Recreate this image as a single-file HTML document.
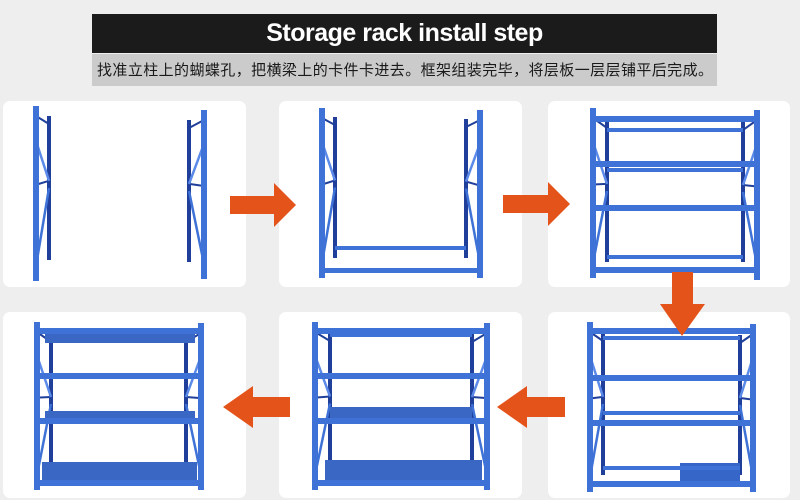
<!DOCTYPE html>
<html><head><meta charset="utf-8"><style>
html,body{margin:0;padding:0}
body{width:800px;height:500px;background:#eeeeee;position:relative;overflow:hidden;font-family:"Liberation Sans","Noto Sans CJK SC",sans-serif}
.title{position:absolute;left:92px;top:14px;width:625px;height:39px;background:#1c1b1b;color:#fff;font-weight:bold;font-size:25px;line-height:39px;text-align:center;letter-spacing:-0.5px}
.subbg{position:absolute;left:92px;top:54px;width:625px;height:32px;background:#cbcbcb}
.sub{position:absolute;left:97px;top:54px;width:616px;height:32px;color:#1a1a1a;font-size:15px;line-height:32px;letter-spacing:0;white-space:nowrap;text-align:justify;text-align-last:justify;text-justify:inter-character;font-family:"Noto Sans CJK SC",sans-serif;overflow:hidden}
.p{position:absolute;background:#fff;border-radius:7px}
svg{position:absolute;left:0;top:0}
</style></head><body>
<div class="title">Storage rack install step</div>
<div class="subbg"></div>
<div class="sub">找准立柱上的蝴蝶孔，把横梁上的卡件卡进去。框架组装完毕，将层板一层层铺平后完成。</div>
<div class="p" style="left:3px;top:101px;width:243px;height:186px"></div>
<div class="p" style="left:279px;top:101px;width:243px;height:186px"></div>
<div class="p" style="left:548px;top:101px;width:242px;height:186px"></div>
<div class="p" style="left:3px;top:312px;width:243px;height:186px"></div>
<div class="p" style="left:279px;top:312px;width:243px;height:186px"></div>
<div class="p" style="left:548px;top:312px;width:242px;height:186px"></div>
<svg id="s" width="800" height="500" viewBox="0 0 800 500"></svg>
<script>
var s='',F='#3f72d6',D='#1f3f9a',L='#5b8ae8';
function r(x,y,w,h,c){s+='<rect x="'+x+'" y="'+y+'" width="'+w+'" height="'+h+'" fill="'+c+'"/>';}
function l(x1,y1,x2,y2,c,w){s+='<line x1="'+x1+'" y1="'+y1+'" x2="'+x2+'" y2="'+y2+'" stroke="'+c+'" stroke-width="'+w+'"/>';}
function frame(fx,bx,top,bot,btop,bbot){
 r(bx-2,btop,4,bbot-btop,D);
 l(fx,top+10,bx,btop+8,D,2);l(fx,top+(bot-top)*0.45,bx,btop+(bbot-btop)*0.45,D,2);
 l(fx,top+(bot-top)*0.2,bx,btop+(bbot-btop)*0.45,L,2.5);l(fx,bot-15,bx,btop+(bbot-btop)*0.5,F,2.5);
 r(fx-3,top,6,bot-top,F);
}
function arrowR(x1,x2,cy){s+='<polygon fill="#e4531a" points="'+x1+','+(cy-9)+' '+(x2-22)+','+(cy-9)+' '+(x2-22)+','+(cy-22)+' '+x2+','+cy+' '+(x2-22)+','+(cy+22)+' '+(x2-22)+','+(cy+9)+' '+x1+','+(cy+9)+'"/>';}
function arrowL(x1,x2,cy){s+='<polygon fill="#e4531a" points="'+x2+','+(cy-10)+' '+(x1+30)+','+(cy-10)+' '+(x1+30)+','+(cy-21)+' '+x1+','+cy+' '+(x1+30)+','+(cy+21)+' '+(x1+30)+','+(cy+10)+' '+x2+','+(cy+10)+'"/>';}
frame(36,49,106,281,116,260);frame(204,189,110,279,120,262);
frame(322,335,108,278,117,258);frame(480,466,110,278,119,258);
r(335,246,131,4,F);r(322,268,158,5,F);
frame(593,607,108,278,120,262);frame(757,743,110,280,122,262);
[128,168,205,255].forEach(function(y){r(607,y,136,4,F)});
[116,161,205,267].forEach(function(y){r(593,y,164,6,F)});
frame(590,603,322,492,333,475);frame(753,740,324,492,335,475);
r(680,463,60,18,'#3566c8');
[336,411,466].forEach(function(y){r(603,y,137,4,F)});
[328,375,420,481].forEach(function(y){r(590,y,163,6,F)});
frame(315,330,322,490,333,474);frame(487,472,323,490,334,474);
r(330,407,142,12,'#3a67c4');r(325,460,157,22,'#3a67c4');r(330,333,142,4,F);
[328,373,418,480].forEach(function(y){r(315,y,172,6,F)});
frame(37,51,322,490,334,474);frame(201,186,323,490,334,474);
r(45,333,150,10,'#3a67c4');r(45,411,150,9,'#3a67c4');r(42,462,155,20,'#3a67c4');
[328,373,418,480].forEach(function(y){r(37,y,164,6,F)});
arrowR(230,296,205);arrowR(503,570,204);
s+='<polygon fill="#e4531a" points="672,272 693,272 693,304 705,304 682,336 660,304 672,304"/>';
arrowL(497,565,407);arrowL(223,290,407);
document.getElementById('s').innerHTML=s;
</script>
</body></html>
